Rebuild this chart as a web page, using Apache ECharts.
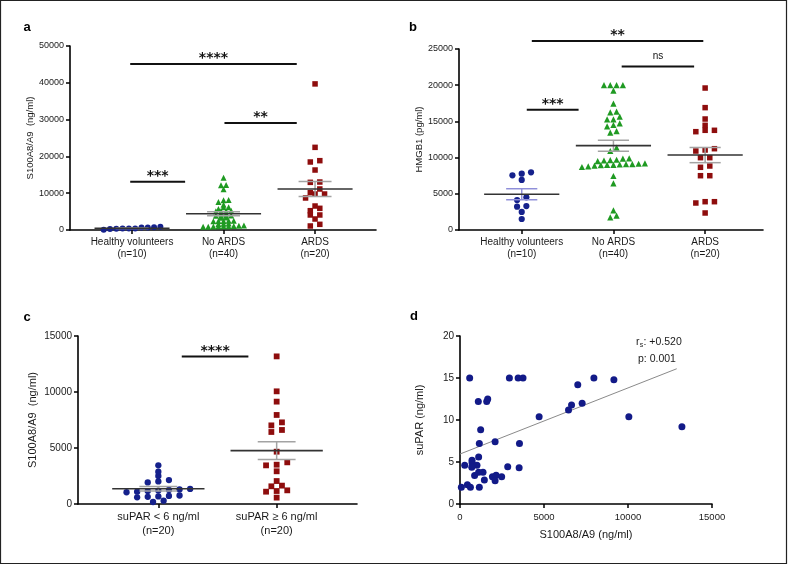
<!DOCTYPE html>
<html><head><meta charset="utf-8">
<script src="https://cdn.jsdelivr.net/npm/echarts@6/dist/echarts.min.js"></script>
<style>html,body{margin:0;padding:0;background:#fff}#c{width:788px;height:565px}</style>
</head><body><div id="c"></div>
<script>
// ---------- data ----------
const catAB = ['Healthy volunteers\n(n=10)', 'No ARDS\n(n=40)', 'ARDS\n(n=20)'];
const catC = ['suPAR < 6 ng/ml\n(n=20)', 'suPAR \u2265 6 ng/ml\n(n=20)'];

const aHealthy = [250, 700, 750, 650, 80, 850, 400, 350, 380, 420];
const aNoArds = [850, 900, 950, 1000, 1000, 1050, 1100, 1150, 1200, 1650, 1700, 1750, 2400, 2420, 2450, 2480, 2500, 3300, 3380, 3880, 3900, 3920, 3950, 4450, 4480, 5100, 5130, 5160, 5200, 5700, 6150, 6180, 6880, 7600, 8080, 8120, 11050, 12150, 12250, 14220];
const aArds = [39700, 22460, 18840, 18480, 16300, 12950, 13040, 11140, 9780, 10140, 9780, 8700, 5890, 5250, 6520, 4080, 4080, 2990, 1090, 1540];

const bHealthy = [7550, 7780, 7970, 6910, 4510, 4140, 3220, 3310, 2490, 1520];
const bNoArds = [20000, 20000, 20000, 20000, 19240, 17450, 16340, 16250, 15650, 15290, 15290, 14730, 14500, 14320, 13670, 13440, 11370, 10910, 9900, 9850, 9700, 9650, 9600, 9500, 9200, 9150, 9100, 9100, 9050, 9000, 9000, 8950, 8900, 8800, 8700, 7460, 6450, 2720, 1750, 1980];
const bArds = [19610, 16900, 15330, 14460, 13770, 13580, 13770, 11230, 11050, 10910, 9990, 9990, 8840, 8660, 7500, 7500, 3910, 3730, 3910, 2350];

const cLow = [3450, 2880, 2500, 2140, 2020, 1930, 1350, 1300, 1250, 1200, 1150, 1100, 1050, 760, 720, 680, 640, 600, 300, 180];
const cHigh = [13180, 10060, 9140, 7950, 7290, 7020, 6610, 6430, 4670, 3510, 3450, 3720, 2920, 2050, 1580, 1640, 1160, 1220, 1100, 570];

const dX = [576, 2940, 3460, 3750, 7970, 9160, 7010, 1090, 1590, 1650, 6640, 6460, 7270, 4710, 10050, 13210, 1230, 1150, 2090, 3540, 1110, 715, 715, 280, 1010, 700, 1370, 870, 1110, 2840, 3520, 1450, 1930, 2150, 2090, 2480, 80, 440, 620, 1150];
const dY = [15, 15, 15, 15, 15, 14.8, 14.2, 12.2, 12.2, 12.5, 11.8, 11.2, 12.0, 10.4, 10.4, 9.2, 8.85, 7.2, 7.4, 7.2, 5.6, 5.2, 4.9, 4.6, 4.6, 4.37, 3.77, 3.4, 3.77, 4.44, 4.33, 2.86, 3.25, 3.41, 2.78, 3.25, 2.0, 2.3, 2.0, 2.0];
const dFitX = [0, 12900];
const dFitY = [5.95, 16.1];

// significance bars: [from, to, level]
const sigA = [[-0.02, 1.80, 45100], [1.01, 1.80, 29080], [-0.02, 0.58, 13120]];
const sigALab = ['****', '**', '***'];
const sigB = [[0.11, 1.98, 26100], [1.09, 1.88, 22600], [0.055, 0.62, 16620]];
const sigBLab = ['**', 'ns', '***'];
const sigC = [[0.198, 0.761, 13180]];
const sigCLab = ['****'];

// ---------- helpers ----------
const FONT = "'Liberation Sans', Arial, Helvetica, sans-serif";
const TXT = '#1a1a1a';
function mean(a) { return a.reduce((s, v) => s + v, 0) / a.length; }
function sem(a) { const m = mean(a); const v = a.reduce((s, x) => s + (x - m) * (x - m), 0) / (a.length - 1); return Math.sqrt(v / a.length); }

// simple row-binned dot-plot layout (like GraphPad)
function swarm(values, cat, pxY, pxX, spacing, bin) {
  const sorted = values.slice().sort((p, q) => p - q);
  const rows = []; let cur = null;
  for (const v of sorted) {
    const py = v * pxY;
    if (!cur || py - cur.start > bin) { cur = { start: py, vals: [] }; rows.push(cur); }
    cur.vals.push(v);
  }
  const pts = [];
  rows.forEach(r => {
    const n = r.vals.length;
    r.vals.forEach((v, i) => pts.push([cat + (i - (n - 1) / 2) * spacing / pxX, v]));
  });
  return pts;
}

const G = [
  { left: 70, top: 46, width: 306, height: 184, xmin: -0.678, xmax: 2.666, ymax: 50000 },
  { left: 459, top: 49, width: 304, height: 181, xmin: -0.684, xmax: 2.631, ymax: 25000 },
  { left: 78, top: 336, width: 279, height: 168, xmin: -0.679, xmax: 1.679, ymax: 15000 },
  { left: 460, top: 336, width: 252, height: 168 }
];
function pxX(i) { return G[i].width / (G[i].xmax - G[i].xmin); }
function pxY(i) { return G[i].height / G[i].ymax; }

function errRender(hw, cw) {
  return function (params, api) {
    const x = api.value(0), m = api.value(1), s = api.value(2);
    const sc = api.value(3) === 1 ? '#8f8fd9' : '#a3a3a3';
    const c = p => api.coord(p);
    const ln = (p, q, col, w) => ({ type: 'line', shape: { x1: p[0], y1: p[1], x2: q[0], y2: q[1] }, style: { stroke: col, lineWidth: w } });
    return {
      type: 'group', children: [
        ln(c([x, m + s]), c([x, m - s]), sc, 1.5),
        ln(c([x - cw, m + s]), c([x + cw, m + s]), sc, 1.5),
        ln(c([x - cw, m - s]), c([x + cw, m - s]), sc, 1.5),
        ln(c([x - hw, m]), c([x + hw, m]), '#333', 1.6)
      ]
    };
  };
}
function sigRender(labels) {
  return function (params, api) {
    const p1 = api.coord([api.value(0), api.value(2)]);
    const p2 = api.coord([api.value(1), api.value(2)]);
    const lab = labels[params.dataIndex];
    const star = lab !== 'ns';
    return {
      type: 'group', children: [
        { type: 'line', shape: { x1: p1[0], y1: p1[1], x2: p2[0], y2: p2[1] }, style: { stroke: '#111', lineWidth: 2 } },
        { type: 'text', x: (p1[0] + p2[0]) / 2, y: p1[1] - (star ? 5.2 : 9.8),
          style: { text: lab, textAlign: 'center', textVerticalAlign: 'middle', fill: '#111',
                   font: star ? "bold 14px 'DejaVu Sans'" : "10px 'Liberation Sans'" } }
      ]
    };
  };
}

function catXAxis(gi, cats, fs, lh) {
  const n = cats.length, vals = [];
  for (let i = 0; i < n; i++) vals.push(i);
  return {
    gridIndex: gi, type: 'value', min: G[gi].xmin, max: G[gi].xmax,
    axisLine: { show: true, onZero: false, lineStyle: { color: '#000', width: 1.6 } },
    axisTick: { show: true, customValues: vals, length: 4, lineStyle: { color: '#000', width: 1.5 } },
    axisLabel: { customValues: vals, formatter: v => cats[Math.round(v)], fontSize: fs, lineHeight: lh, margin: 6, color: TXT, fontFamily: FONT },
    splitLine: { show: false }
  };
}
function valYAxis(gi, max, interval, name, nameGap, nfs, lfs) {
  return {
    gridIndex: gi, type: 'value', min: 0, max: max, interval: interval,
    name: name, nameLocation: 'middle', nameGap: nameGap,
    nameTextStyle: { fontSize: nfs, color: TXT, fontFamily: FONT },
    axisLine: { show: true, onZero: false, lineStyle: { color: '#000', width: 1.6 } },
    axisTick: { show: true, length: 4, lineStyle: { color: '#000', width: 1.5 } },
    axisLabel: { fontSize: lfs, margin: 6, color: TXT, fontFamily: FONT, formatter: v => String(v) },
    splitLine: { show: false }
  };
}

const BLUE = '#15218c', GREEN = '#1f9a22', RED = '#8e0d0d';
function dots(gi, pts, sym, size, color) {
  return { type: 'scatter', xAxisIndex: gi, yAxisIndex: gi, data: pts, symbol: sym, symbolSize: size,
           itemStyle: { color: color, opacity: 1 }, silent: true, z: 2 };
}

const statsA = [[0, mean(aHealthy), sem(aHealthy), 0], [1, mean(aNoArds), sem(aNoArds), 0], [2, mean(aArds), sem(aArds), 0]];
const statsB = [[0, mean(bHealthy), sem(bHealthy), 1], [1, mean(bNoArds), sem(bNoArds), 0], [2, mean(bArds), sem(bArds), 0]];
const statsC = [[0, mean(cLow), sem(cLow), 0], [1, mean(cHigh), sem(cHigh), 0]];

const series = [
  dots(0, swarm(aHealthy, 0, pxY(0), pxX(0), 6.3, 4), 'circle', 6, BLUE),
  dots(0, swarm(aNoArds, 1, pxY(0), pxX(0), 5.1, 2), 'triangle', 6, GREEN),
  dots(0, swarm(aArds, 2, pxY(0), pxX(0), 9.5, 4), 'rect', 5.5, RED),
  { type: 'custom', xAxisIndex: 0, yAxisIndex: 0, data: statsA, renderItem: errRender(0.41, 0.18), z: 5, silent: true },
  { type: 'custom', xAxisIndex: 0, yAxisIndex: 0, data: sigA, renderItem: sigRender(sigALab), clip: false, z: 5, silent: true },

  dots(1, swarm(bHealthy, 0, pxY(1), pxX(1), 9.3, 4), 'circle', 6.2, BLUE),
  dots(1, swarm(bNoArds, 1, pxY(1), pxX(1), 6.3, 4), 'triangle', 6.2, GREEN),
  dots(1, swarm(bArds, 2, pxY(1), pxX(1), 9.3, 4), 'rect', 5.5, RED),
  { type: 'custom', xAxisIndex: 1, yAxisIndex: 1, data: statsB, renderItem: errRender(0.41, 0.17), z: 5, silent: true },
  { type: 'custom', xAxisIndex: 1, yAxisIndex: 1, data: sigB, renderItem: sigRender(sigBLab), clip: false, z: 5, silent: true },

  dots(2, swarm(cLow, 0, pxY(2), pxX(2), 10.6, 4), 'circle', 6.3, BLUE),
  dots(2, swarm(cHigh, 1, pxY(2), pxX(2), 10.6, 4), 'rect', 5.8, RED),
  { type: 'custom', xAxisIndex: 2, yAxisIndex: 2, data: statsC, renderItem: errRender(0.39, 0.16), z: 5, silent: true },
  { type: 'custom', xAxisIndex: 2, yAxisIndex: 2, data: sigC, renderItem: sigRender(sigCLab), clip: false, z: 5, silent: true },

  { type: 'scatter', xAxisIndex: 3, yAxisIndex: 3, data: dX.map((x, i) => [x, dY[i]]), symbol: 'circle', symbolSize: 7,
    itemStyle: { color: '#121a88', opacity: 1 }, silent: true, z: 3 },
  { type: 'line', xAxisIndex: 3, yAxisIndex: 3, data: dFitX.map((x, i) => [x, dFitY[i]]), showSymbol: false, symbol: 'none',
    lineStyle: { color: '#8a8a8a', width: 1 }, silent: true, z: 2 }
];

const letter = (t, x, y) => ({ type: 'text', x: x, y: y, silent: true,
  style: { text: t, font: "bold 13px 'Liberation Sans'", fill: '#000', textAlign: 'center', textVerticalAlign: 'middle' } });
const small = (t, x, y, fs) => ({ type: 'text', x: x, y: y, silent: true,
  style: { text: t, font: fs + "px 'Liberation Sans'", fill: TXT, textAlign: 'left', textVerticalAlign: 'middle' } });

const option = {
  animation: false,
  backgroundColor: '#fff',
  textStyle: { fontFamily: FONT },
  grid: G.map(g => ({ left: g.left, top: g.top, width: g.width, height: g.height })),
  xAxis: [
    catXAxis(0, catAB, 10, 12),
    catXAxis(1, catAB, 10, 12),
    catXAxis(2, catC, 11, 14),
    { gridIndex: 3, type: 'value', min: 0, max: 15000, interval: 5000,
      name: 'S100A8/A9 (ng/ml)', nameLocation: 'middle', nameGap: 25,
      nameTextStyle: { fontSize: 11, color: TXT, fontFamily: FONT },
      axisLine: { show: true, onZero: false, lineStyle: { color: '#000', width: 1.6 } },
      axisTick: { show: true, length: 4, lineStyle: { color: '#000', width: 1.5 } },
      axisLabel: { fontSize: 9.5, margin: 8, color: TXT, fontFamily: FONT, formatter: v => String(v) },
      splitLine: { show: false } }
  ],
  yAxis: [
    valYAxis(0, 50000, 10000, 'S100A8/A9  (ng/ml)', 33.5, 9.5, 9),
    valYAxis(1, 25000, 5000, 'HMGB1 (pg/ml)', 34.5, 9.5, 9),
    valYAxis(2, 15000, 5000, 'S100A8/A9  (ng/ml)', 40, 11, 10),
    valYAxis(3, 20, 5, 'suPAR (ng/ml)', 35, 11, 10)
  ],
  series: series,
  graphic: [
    { type: 'rect', silent: true, shape: { x: 0.5, y: 0.5, width: 786, height: 563 }, style: { fill: 'none', stroke: '#222', lineWidth: 1.2 } },
    letter('a', 27, 27), letter('b', 413, 27), letter('c', 27, 317), letter('d', 414, 316),
    small('r', 636, 342, 10.5), small('s', 639.8, 345.5, 7), small(': +0.520', 643.5, 342, 10.5),
    small('p: 0.001', 638, 359.3, 10.5)
  ]
};

const chart = echarts.init(document.getElementById('c'), null, { renderer: 'canvas' });
chart.setOption(option);
</script></body></html>
